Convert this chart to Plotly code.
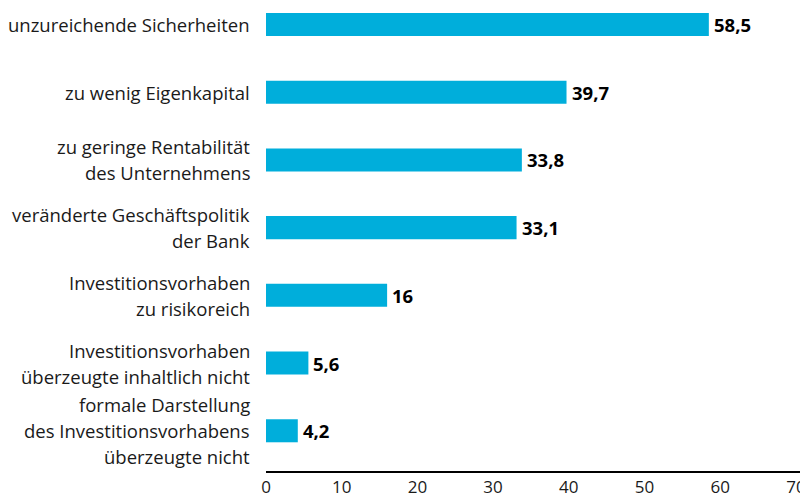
import plotly.graph_objects as go

categories = [
    "unzureichende Sicherheiten",
    "zu wenig Eigenkapital",
    "zu geringe Rentabilität\ndes Unternehmens",
    "veränderte Geschäftspolitik\nder Bank",
    "Investitionsvorhaben\nzu risikoreich",
    "Investitionsvorhaben\nüberzeugte inhaltlich nicht",
    "formale Darstellung\ndes Investitionsvorhabens\nüberzeugte nicht",
]
values = [58.5, 39.7, 33.8, 33.1, 16, 5.6, 4.2]
value_labels = ["58,5", "39,7", "33,8", "33,1", "16", "5,6", "4,2"]
tick_vals = [0, 10, 20, 30, 40, 50, 60, 70]

FONT = "Open Sans"
BAR = "#00AEDB"

fig = go.Figure()
fig.add_trace(go.Bar(
    x=values, y=list(range(len(categories))), orientation="h",
    marker=dict(color=BAR, line=dict(width=0)), width=0.34,
    hoverinfo="skip",
))

annotations = []
LINE_H = 26
for i, (cat, v, lab) in enumerate(zip(categories, values, value_labels)):
    lines = cat.split("\n")
    n = len(lines)
    for j, line in enumerate(lines):
        annotations.append(dict(
            x=0, y=i, xref="x", yref="y", text=line, showarrow=False,
            xanchor="right", yanchor="middle", xshift=-14,
            yshift=((n - 1) / 2 - j) * LINE_H,
            font=dict(family=FONT, size=18.5, color="#1a1a1a"),
        ))
    annotations.append(dict(
        x=v, y=i, xref="x", yref="y", text="<b>" + lab + "</b>", showarrow=False,
        xanchor="left", yanchor="middle", xshift=3,
        font=dict(family=FONT, size=18.5, color="#000000"),
    ))

fig.update_layout(
    width=800, height=487,
    margin=dict(l=258, r=0, t=0, b=24.3),
    paper_bgcolor="white", plot_bgcolor="white",
    showlegend=False,
    annotations=annotations,
    xaxis=dict(
        range=[0, 71.6], tickvals=tick_vals, ticktext=[str(t) for t in tick_vals],
        showgrid=False, zeroline=False, showline=True, linecolor="#000000", linewidth=1.5,
        ticks="", tickfont=dict(family=FONT, size=17, color="#1a1a1a"),
        automargin=False,
    ),
    yaxis=dict(
        range=[6.594, -0.243], showticklabels=False, showgrid=False,
        zeroline=False, showline=False, ticks="", automargin=False,
    ),
)

fig.write_html("out.html")
